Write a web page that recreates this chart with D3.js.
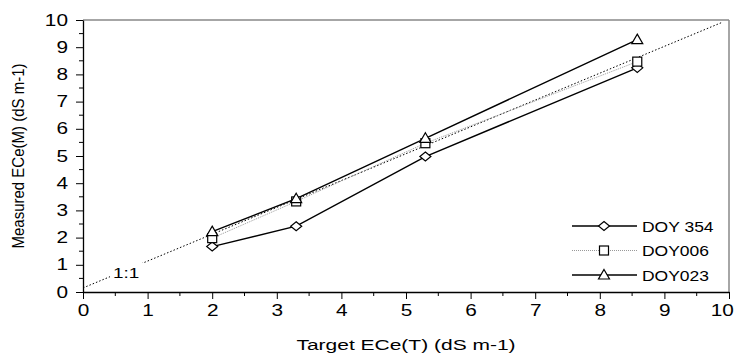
<!DOCTYPE html>
<html>
<head>
<meta charset="utf-8">
<script src="https://cdn.jsdelivr.net/npm/d3@7"></script>
<style>
  body { margin: 0; background: #fff; }
  svg { display: block; font-family: "Liberation Sans", Arial, sans-serif; }
</style>
</head>
<body>
<div id="chart"></div>
<script>
// target ECe values (x) shared by every series
const targetECe = [2, 3.3, 5.3, 8.58];

// measured ECe per sampling day
const doy354 = [1.67, 2.42, 4.98, 8.24];
const doy006 = [1.98, 3.33, 5.47, 8.47];
const doy023 = [2.22, 3.43, 5.65, 9.28];

const seriesNames = ["DOY 354", "DOY006", "DOY023"];
const xTicks = [0, 1, 2, 3, 4, 5, 6, 7, 8, 9, 10];
const yTicks = [0, 1, 2, 3, 4, 5, 6, 7, 8, 9, 10];

// the 1:1 reference line end points
const oneToOneX = [0, 9.9];
const oneToOneY = [0.15, 9.92];

const width = 740, height = 356;
const margin = { top: 20, right: 11, bottom: 64, left: 83 };
const FONT = "Liberation Sans, Arial, sans-serif";

const svg = d3.select("#chart").append("svg")
    .attr("width", width).attr("height", height);

const x = d3.scaleLinear().domain([0, 10]).range([margin.left, width - margin.right]);
const y = d3.scaleLinear().domain([0, 10]).range([height - margin.bottom, margin.top]);

// the original figure looks stretched sideways, so widen the glyphs a bit
function stretch(sel, sx) {
    sel.each(function () {
        const t = d3.select(this);
        const tx = +t.attr("x") || 0, ty = +t.attr("y") || 0;
        t.attr("transform", `translate(${tx},${ty}) scale(${sx},1) translate(${-tx},${-ty})`);
    });
}

// frame top + right in grey
svg.append("line")
    .attr("x1", x(0)).attr("x2", x(10)).attr("y1", y(10)).attr("y2", y(10))
    .attr("stroke", "#888").attr("stroke-width", 1.5);
svg.append("line")
    .attr("x1", x(10)).attr("x2", x(10)).attr("y1", y(10)).attr("y2", y(0))
    .attr("stroke", "#888").attr("stroke-width", 1.5);

// minor ticks at half units
const halves = d3.range(0.5, 10, 1);
svg.append("g").selectAll("line").data(halves).join("line")
    .attr("x1", d => x(d)).attr("x2", d => x(d))
    .attr("y1", y(0)).attr("y2", y(0) + 4)
    .attr("stroke", "#000");
svg.append("g").selectAll("line").data(halves).join("line")
    .attr("y1", d => y(d)).attr("y2", d => y(d))
    .attr("x1", x(0)).attr("x2", x(0) - 4)
    .attr("stroke", "#000");

const xAxis = svg.append("g")
    .attr("transform", `translate(0,${y(0)})`)
    .call(d3.axisBottom(x).tickValues(xTicks).tickSize(7).tickPadding(6).tickSizeOuter(0));
const yAxis = svg.append("g")
    .attr("transform", `translate(${x(0)},0)`)
    .call(d3.axisLeft(y).tickValues(yTicks).tickSize(7).tickPadding(8).tickSizeOuter(0));

[xAxis, yAxis].forEach(g => {
    g.attr("font-family", FONT).attr("font-size", 16);
    g.selectAll("text").attr("fill", "#000");
    g.selectAll("line").attr("stroke", "#000");
    g.select(".domain").attr("stroke", "#000").attr("stroke-width", 1.3);
});
// keep the last x label inside the page
xAxis.selectAll(".tick text").filter(d => d === 10).attr("dx", "-0.35em");
stretch(xAxis.selectAll("text"), 1.3);
stretch(yAxis.selectAll("text"), 1.3);

// 1:1 line
svg.append("line")
    .attr("x1", x(oneToOneX[0])).attr("y1", y(oneToOneY[0]))
    .attr("x2", x(oneToOneX[1])).attr("y2", y(oneToOneY[1]))
    .attr("stroke", "#000").attr("stroke-width", 1)
    .attr("stroke-dasharray", "1.5,2");
svg.append("rect")
    .attr("x", 110).attr("y", 263).attr("width", 33).attr("height", 18)
    .attr("fill", "#fff");
svg.append("text")
    .attr("x", 113).attr("y", 278)
    .attr("font-size", 14).text("1:1")
    .call(stretch, 1.35);

const line = d3.line().x(d => x(d[0])).y(d => y(d[1]));

const series = [
    { name: seriesNames[0], vals: doy354, stroke: "#000", width: 1.4, dash: null, symbol: "diamond" },
    { name: seriesNames[1], vals: doy006, stroke: "#999", width: 1, dash: "1,1", symbol: "square" },
    { name: seriesNames[2], vals: doy023, stroke: "#000", width: 1.4, dash: null, symbol: "triangle" }
];

function drawMarker(g, kind, cx, cy) {
    if (kind === "diamond") {
        g.append("path")
            .attr("d", `M${cx},${cy - 4.5}L${cx + 5.5},${cy}L${cx},${cy + 4.5}L${cx - 5.5},${cy}Z`)
            .attr("fill", "#fff").attr("stroke", "#000").attr("stroke-width", 1.2);
    } else if (kind === "square") {
        g.append("rect")
            .attr("x", cx - 4.5).attr("y", cy - 4.5).attr("width", 9).attr("height", 9)
            .attr("fill", "#fff").attr("stroke", "#000").attr("stroke-width", 1.2);
    } else {
        g.append("path")
            .attr("d", `M${cx},${cy - 5.5}L${cx + 5.5},${cy + 4}L${cx - 5.5},${cy + 4}Z`)
            .attr("fill", "#fff").attr("stroke", "#000").attr("stroke-width", 1.2);
    }
}

series.forEach(s => {
    const pts = targetECe.map((t, i) => [t, s.vals[i]]);
    svg.append("path").datum(pts)
        .attr("d", line).attr("fill", "none")
        .attr("stroke", s.stroke).attr("stroke-width", s.width)
        .attr("stroke-dasharray", s.dash);
});
series.forEach(s => {
    const g = svg.append("g");
    targetECe.forEach((t, i) => drawMarker(g, s.symbol, x(t), y(s.vals[i])));
});

// legend
const legend = svg.append("g");
series.forEach((s, i) => {
    const ly = 226 + i * 24.5;
    legend.append("line")
        .attr("x1", 572).attr("x2", 637).attr("y1", ly).attr("y2", ly)
        .attr("stroke", s.stroke).attr("stroke-width", s.width)
        .attr("stroke-dasharray", s.dash);
    drawMarker(legend, s.symbol, 604, ly);
    legend.append("text")
        .attr("x", 642).attr("y", ly + 6)
        .attr("font-size", 14).text(s.name)
        .call(stretch, 1.25);
});

// axis titles
svg.append("text")
    .attr("x", (x(0) + x(10)) / 2).attr("y", 350)
    .attr("text-anchor", "middle").attr("font-size", 15)
    .text("Target ECe(T) (dS m-1)")
    .call(stretch, 1.4);
svg.append("text")
    .attr("transform", `translate(24,${(y(0) + y(10)) / 2}) scale(1.15,1) rotate(-90)`)
    .attr("text-anchor", "middle").attr("font-size", 15)
    .text("Measured ECe(M) (dS m-1)");
</script>
</body>
</html>
